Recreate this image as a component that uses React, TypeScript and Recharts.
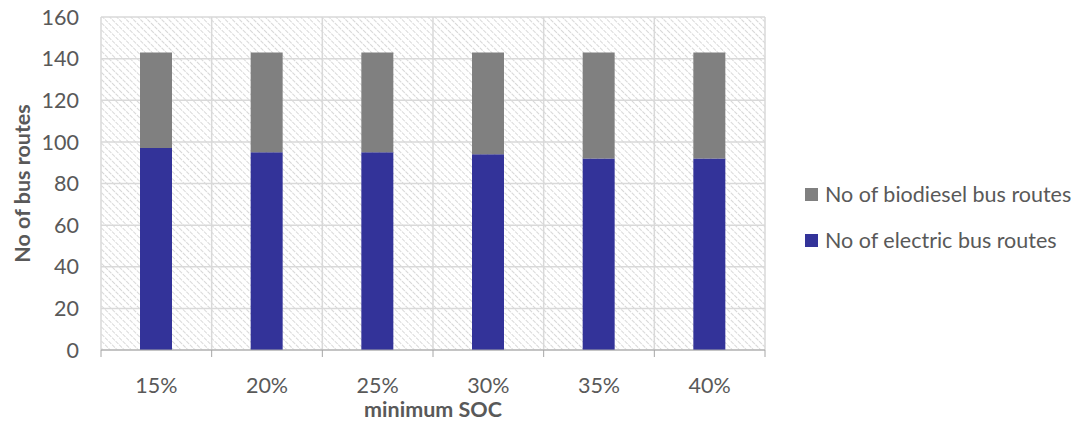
import { BarChart, Bar, XAxis, YAxis, CartesianGrid, Legend } from 'recharts'

const socLevels = ['15%', '20%', '25%', '30%', '35%', '40%']
const electricRoutes = [97, 95, 95, 94, 92, 92]
const biodieselRoutes = [46, 48, 48, 49, 51, 51]
const yTicks = [0, 20, 40, 60, 80, 100, 120, 140, 160]

const seriesNames = {
  electric: 'No of electric bus routes',
  biodiesel: 'No of biodiesel bus routes'
}

const colors = {
  electric: '#333399',
  biodiesel: '#808080'
}

const data = socLevels.map((soc, i) => ({
  soc,
  electric: electricRoutes[i],
  biodiesel: biodieselRoutes[i]
}))

const font = 'Lato, "Open Sans", sans-serif'
const textColor = '#595959'
const axisColor = '#a6a6a6'
const fs = 21.5

// category tick: label in the middle, tick marks on the band edges
const SocTick = (props: any) => {
  const { x, y, payload, index, visibleTicksCount } = props
  const half = payload.offset ?? 0
  return (
    <g>
      <line x1={x - half} x2={x - half} y1={y} y2={y + 7} stroke={axisColor} />
      {index === visibleTicksCount - 1 && (
        <line x1={x + half} x2={x + half} y1={y} y2={y + 7} stroke={axisColor} />
      )}
      <text x={x} y={y + 43} textAnchor="middle" fontSize={fs} fill={textColor} fontFamily={font}>
        {payload.value}
      </text>
    </g>
  )
}

// vertical grid on the category band edges
const bandEdges = ({ xAxis, offset }: any) => {
  const scale = xAxis?.scale
  if (typeof scale === 'function' && typeof scale.bandwidth === 'function') {
    const bw = scale.bandwidth()
    return [...socLevels.map(s => scale(s)), scale(socLevels[socLevels.length - 1]) + bw]
  }
  const step = offset.width / socLevels.length
  return [...socLevels.map((_, i) => offset.left + i * step), offset.left + offset.width]
}

const LegendBox = () => {
  // biodiesel is listed first, like the original
  const items = [
    { key: 'biodiesel', top: 0 },
    { key: 'electric', top: 46 }
  ] as const
  return (
    <div style={{ position: 'relative', width: 270, height: 80, fontFamily: font }}>
      {items.map(item => (
        <div key={item.key} style={{ position: 'absolute', top: item.top, left: 0, display: 'flex', alignItems: 'center', height: 26 }}>
          <span style={{ width: 13, height: 13, background: colors[item.key], display: 'inline-block', marginRight: 7 }} />
          <span style={{ fontSize: fs, color: textColor, whiteSpace: 'nowrap' }}>{seriesNames[item.key]}</span>
        </div>
      ))}
    </div>
  )
}

export default function App() {
  return (
    <div style={{ position: 'absolute', left: 0, top: 0, width: 1083, height: 425, background: '#fff' }}>
      <BarChart
        width={1083}
        height={425}
        data={data}
        margin={{ top: 17, right: 318, left: 11, bottom: 8 }}
        barSize={32}
      >
        <defs>
          <pattern id="hatch" width="5" height="5" patternUnits="userSpaceOnUse" patternTransform="rotate(-45)">
            <line x1="0" y1="0" x2="0" y2="5" stroke="#cfcfcf" strokeWidth="1.6" strokeDasharray="2 1" />
          </pattern>
        </defs>
        <CartesianGrid
          stroke="#d9d9d9"
          strokeWidth={1.5}
          fill="url(#hatch)"
          fillOpacity={1}
          verticalCoordinatesGenerator={bandEdges}
        />
        <XAxis
          dataKey="soc"
          height={67}
          axisLine={{ stroke: axisColor }}
          tickLine={false}
          tickSize={0}
          tickMargin={0}
          interval={0}
          tick={<SocTick />}
          label={{ value: 'minimum SOC', position: 'insideBottom', offset: 0, style: { fontSize: fs, fontWeight: 'bold', fill: textColor, fontFamily: font } }}
        />
        <YAxis
          width={90}
          domain={[0, 160]}
          ticks={yTicks}
          axisLine={false}
          tickLine={false}
          tickMargin={16}
          tick={{ fontSize: fs, fill: textColor, fontFamily: font }}
          label={{ value: 'No of bus routes', angle: -90, position: 'insideLeft', offset: 11, style: { textAnchor: 'middle', fontSize: fs, fontWeight: 'bold', fill: textColor, fontFamily: font } }}
        />
        <Legend
          layout="horizontal"
          align="center"
          verticalAlign="middle"
          content={<LegendBox />}
          wrapperStyle={{ left: 805, top: 181, width: 270 }}
        />
        <Bar dataKey="electric" name={seriesNames.electric} stackId="a" fill={colors.electric} isAnimationActive={false} />
        <Bar dataKey="biodiesel" name={seriesNames.biodiesel} stackId="a" fill={colors.biodiesel} isAnimationActive={false} />
      </BarChart>
    </div>
  )
}
